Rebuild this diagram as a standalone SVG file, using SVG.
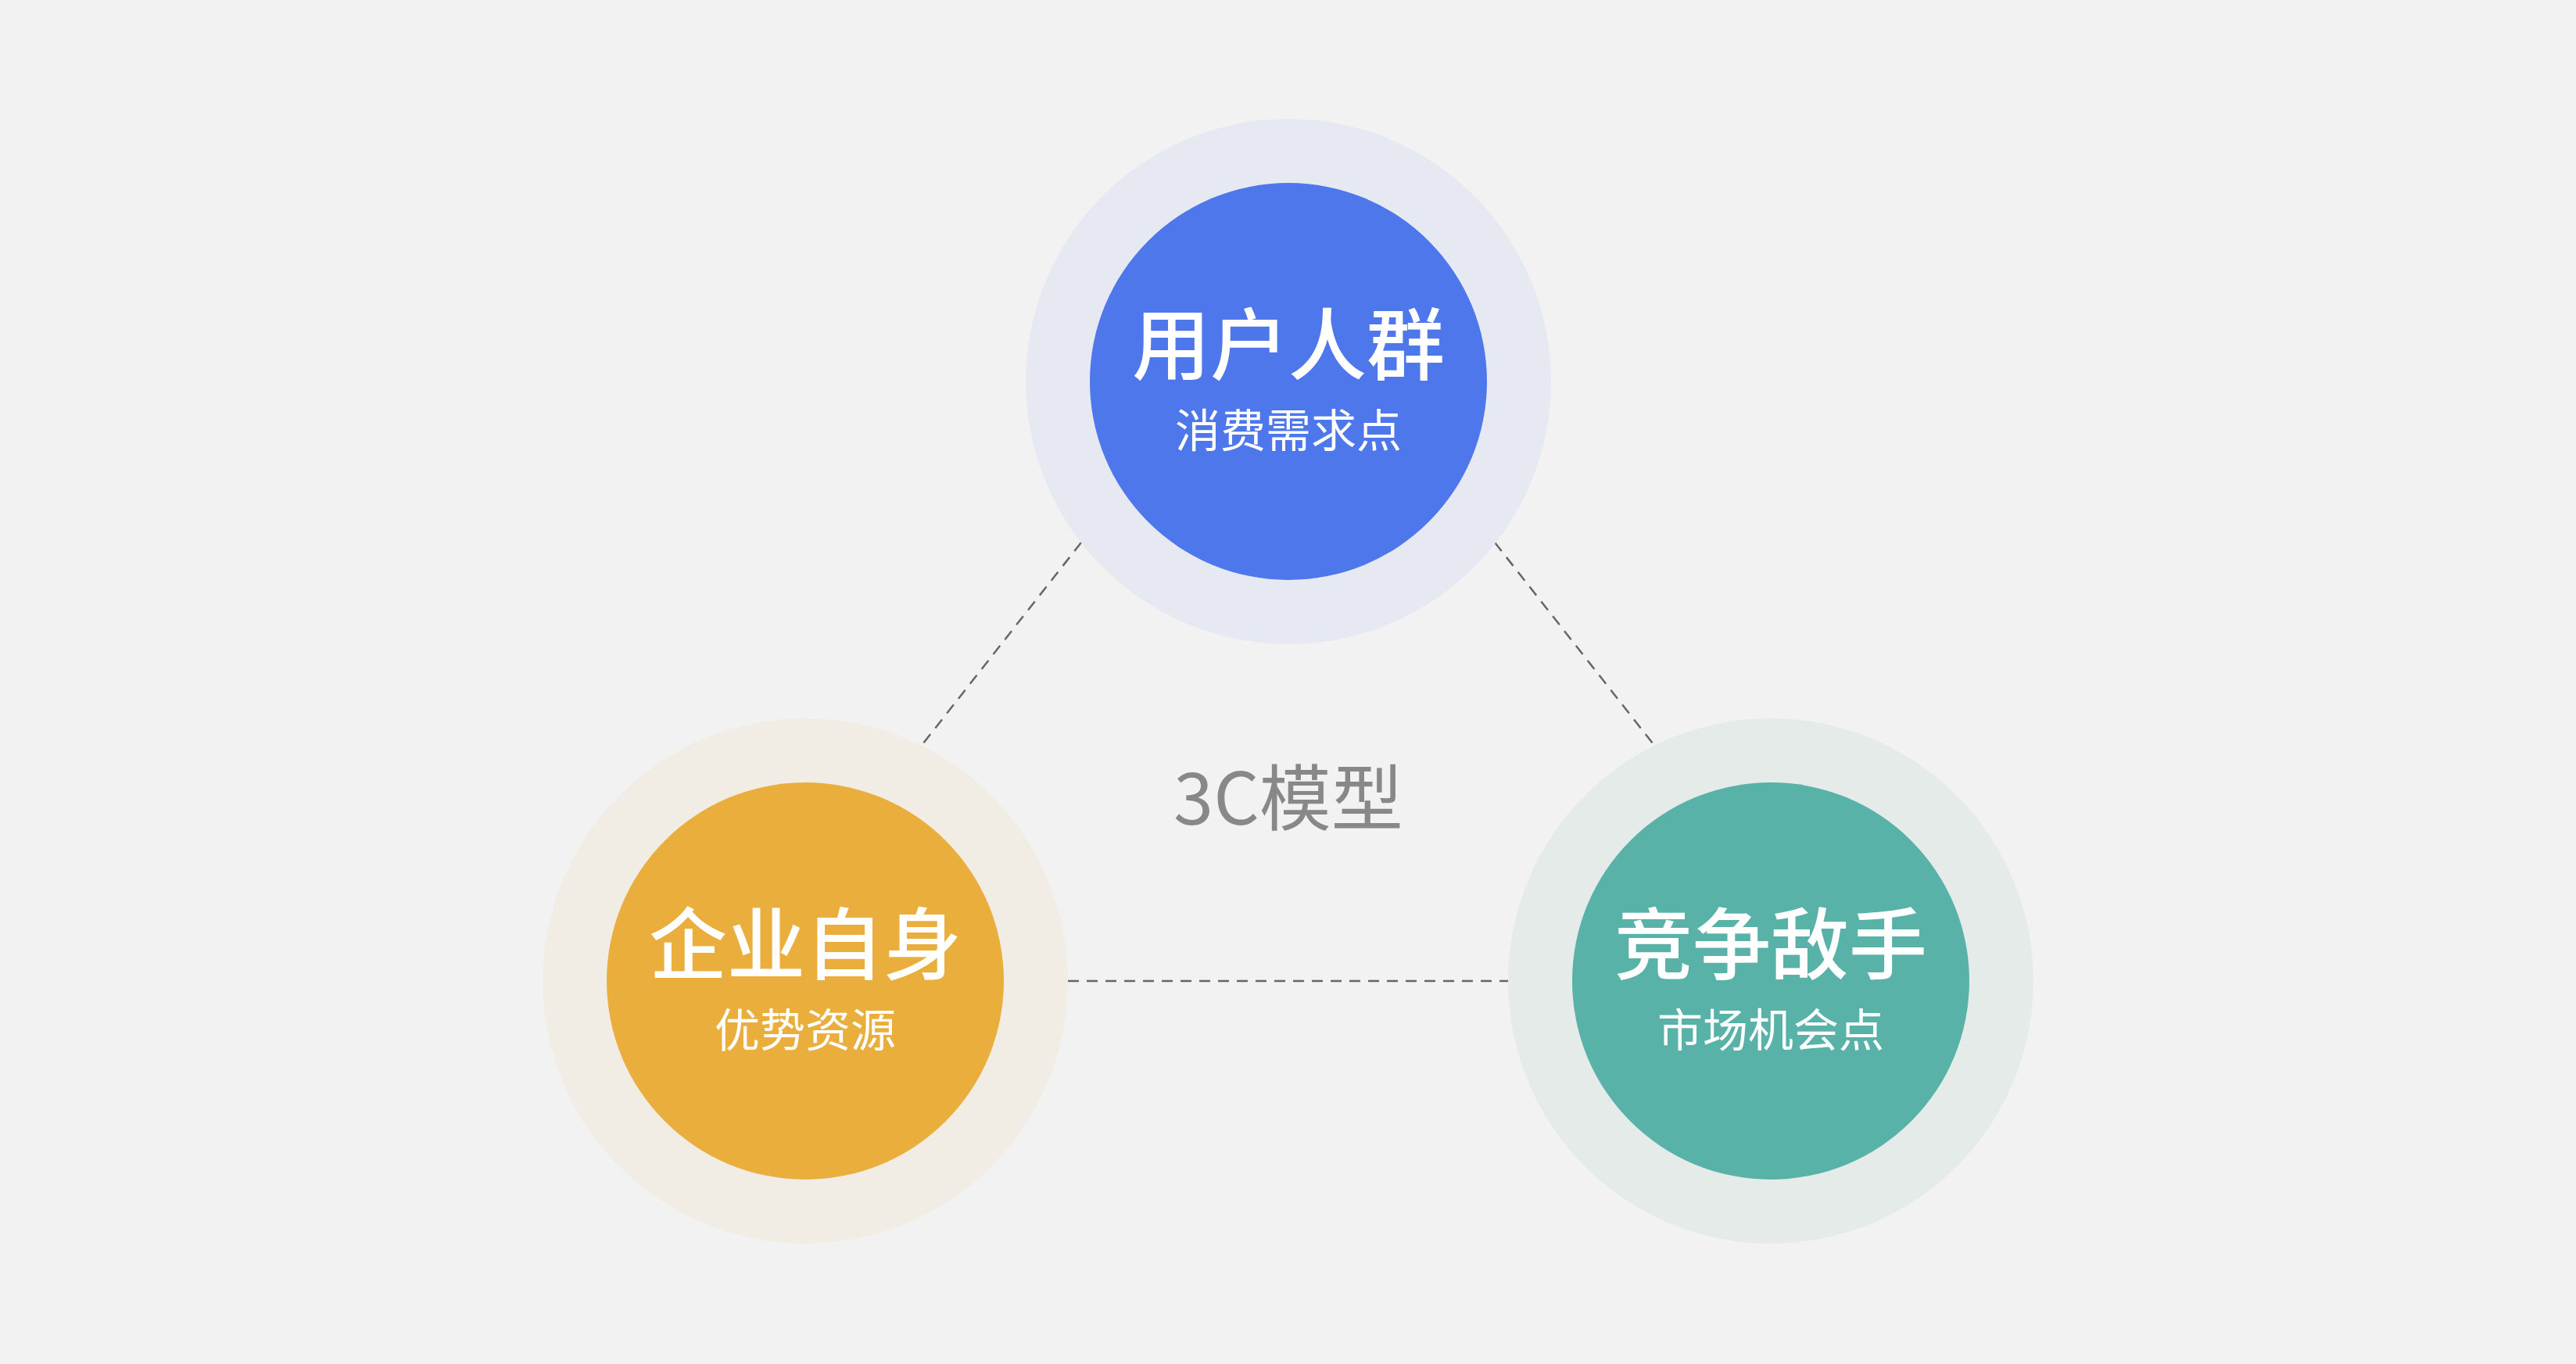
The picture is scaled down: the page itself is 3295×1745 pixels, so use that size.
<svg xmlns="http://www.w3.org/2000/svg" width="3295" height="1745" viewBox="0 0 3295 1745">
<style>
.t{font-family:"Noto Sans CJK SC","Noto Sans",sans-serif;fill:#fff;text-anchor:middle}
.h{font-size:100px;font-weight:500}
.s{font-size:58px}
.c{stroke:#666;stroke-width:2.5;stroke-dasharray:14 10;fill:none}
</style>
<rect width="3295" height="1745" fill="#f2f2f2"/>
<g id="connectors">
<line class="c" x1="1383" y1="694" x2="1177" y2="956"/>
<line class="c" x1="1912" y1="694" x2="2118" y2="956"/>
<line class="c" x1="1366" y1="1255" x2="1929" y2="1255"/>
</g>
<g id="center">
<text x="1648" y="1055" font-family="'Noto Sans CJK SC','Noto Sans',sans-serif" font-size="92" fill="#888" text-anchor="middle">3C模型</text>
</g>
<g id="users">
<circle cx="1648" cy="488" r="336" fill="#e6e9f1"/>
<circle cx="1648" cy="488" r="254" fill="#4e77ec"/>
<text class="t h" x="1648" y="478">用户人群</text>
<text class="t s" x="1648" y="572">消费需求点</text>
</g>
<g id="company">
<circle cx="1030" cy="1255" r="336" fill="#f1ede5"/>
<circle cx="1030" cy="1255" r="254" fill="#eaae3c"/>
<text class="t h" x="1030" y="1245">企业自身</text>
<text class="t s" x="1030" y="1339">优势资源</text>
</g>
<g id="competitor">
<circle cx="2265" cy="1255" r="336" fill="#e5ebe9"/>
<circle cx="2265" cy="1255" r="254" fill="#58b2a8"/>
<text class="t h" x="2265" y="1245">竞争敌手</text>
<text class="t s" x="2265" y="1339">市场机会点</text>
</g>
</svg>
